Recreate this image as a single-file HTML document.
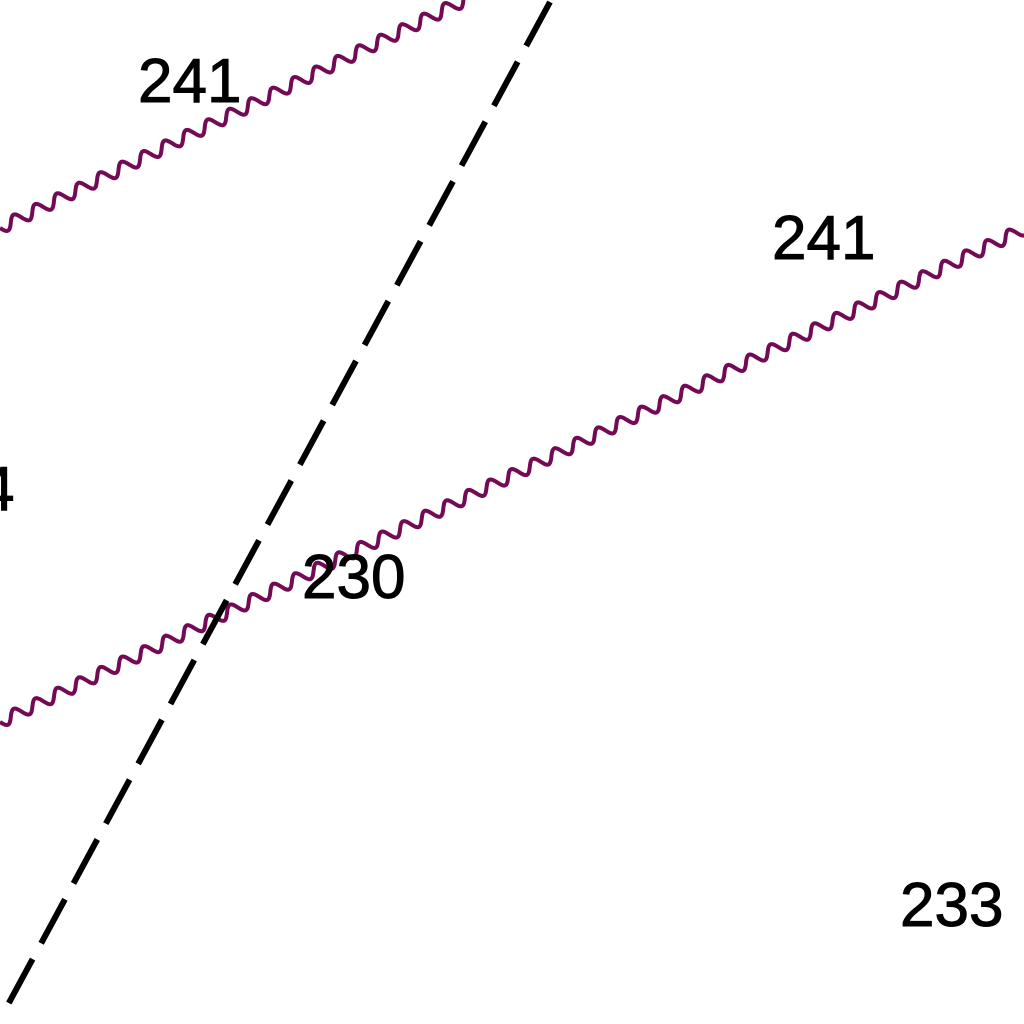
<!DOCTYPE html>
<html><head><meta charset="utf-8"><style>
html,body{margin:0;padding:0;background:#fff;}
svg{display:block;}
text{font-family:"Liberation Sans",sans-serif;font-size:62px;fill:#000;stroke:#000;stroke-width:1;}
</style></head><body>
<svg id="map" width="1024" height="1024" viewBox="0 0 1024 1024">
<rect width="1024" height="1024" fill="#fff"/>
<g id="waves"></g>
<line x1="550" y1="2" x2="4" y2="1012" stroke="#000" stroke-width="6" stroke-dasharray="50,18" stroke-linecap="butt"/>
<text x="138" y="102">241</text>
<text x="772" y="259">241</text>
<text x="302" y="598">230</text>
<text x="900" y="926">233</text>
<text x="-20" y="510">4</text>
</svg>
<script>
const lineStarts = [[0,228],[0,722]];
const lineEnds = [[475,-5],[1030,226]];
const g = document.getElementById('waves');
for (let k=0;k<lineStarts.length;k++){
  const [x0,y0]=lineStarts[k],[x1,y1]=lineEnds[k];
  const dx=x1-x0,dy=y1-y0,L=Math.hypot(dx,dy);
  const ux=dx/L,uy=dy/L,nx=-uy,ny=ux;
  const period=24,amp=6;
  let d='';
  for(let s=0;s<=L;s+=1){
    const o=amp*Math.sin(2*Math.PI*s/period);
    const x=x0+ux*s+nx*o,y=y0+uy*s+ny*o;
    d+=(s===0?'M':'L')+x.toFixed(1)+' '+y.toFixed(1);
  }
  const p=document.createElementNS('http://www.w3.org/2000/svg','path');
  p.setAttribute('d',d);
  p.setAttribute('fill','none');
  p.setAttribute('stroke','#730a55');
  p.setAttribute('stroke-width','4');
  
  
  g.appendChild(p);
}
</script>
</body></html>
